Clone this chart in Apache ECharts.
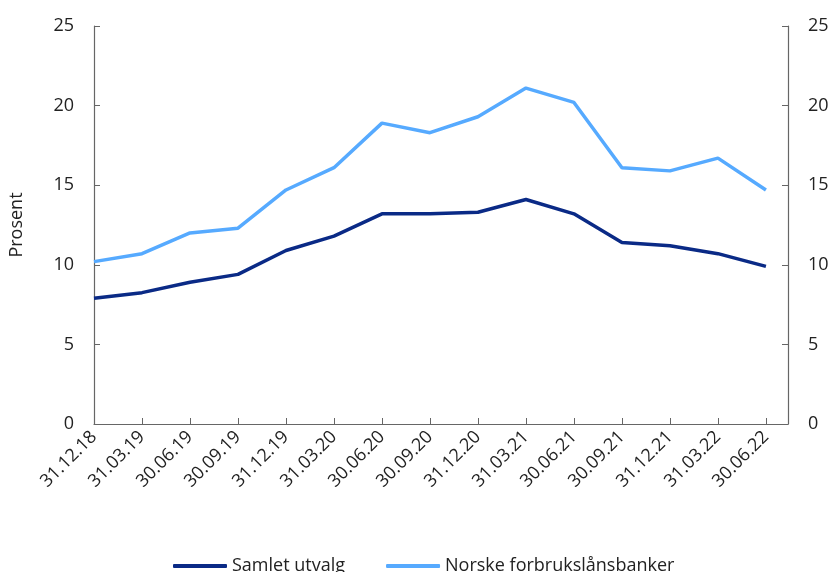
<!DOCTYPE html>
<html>
<head>
<meta charset="utf-8">
<script src="https://cdn.jsdelivr.net/npm/echarts@6/dist/echarts.min.js"></script>
<style>
  html,body{margin:0;padding:0;background:#fff}
  #c{width:829px;height:572px}
</style>
</head>
<body>
<div id="c"></div>
<script>
// kvartalsdatoer og andeler (prosent)
const dates = ['31.12.18','31.03.19','30.06.19','30.09.19','31.12.19','31.03.20','30.06.20','30.09.20',
  '31.12.20','31.03.21','30.06.21','30.09.21','31.12.21','31.03.22','30.06.22']
const samlet = [7.9, 8.25, 8.9, 9.4, 10.9, 11.8, 13.2, 13.2, 13.3, 14.1, 13.2, 11.4, 11.2, 10.7, 9.9]
const forbruk = [10.2, 10.7, 12.0, 12.3, 14.7, 16.1, 18.9, 18.3, 19.3, 21.1, 20.2, 16.1, 15.9, 16.7, 14.7]
const yTicks = [0, 5, 10, 15, 20, 25]

const FONT = '"Open Sans", "Noto Sans", sans-serif'
const AX = '#666'
const TXT = '#222'

const yAxisBase = pos => ({
  type:'value', position:pos, min:yTicks[0], max:yTicks[yTicks.length-1], interval:5,
  axisLine:{show:true, lineStyle:{color:AX, width:1.2}},
  axisTick:{show:true, inside:true, length:6, lineStyle:{color:AX}},
  axisLabel:{color:TXT, fontSize:18, fontFamily:FONT, margin:20},
  splitLine:{show:false}
})

const chart = echarts.init(document.getElementById('c'))
chart.setOption({
  animation:false,
  textStyle:{fontFamily:FONT},
  grid:{left:94, right:41, top:26, bottom:148, containLabel:false, outerBoundsMode:'none'},
  legend:{
    bottom:-3, left:173, padding:0, itemWidth:54, itemHeight:4, itemGap:41,
    icon:'roundRect',
    textStyle:{color:TXT, fontSize:18, fontFamily:FONT},
    data:['Samlet utvalg','Norske forbrukslånsbanker']
  },
  xAxis:{
    type:'value', min:0, max:14.46, interval:1,
    axisLine:{show:true, lineStyle:{color:AX, width:1.2}},
    axisTick:{show:true, inside:true, length:6, lineStyle:{color:AX}},
    axisLabel:{
      color:TXT, fontSize:18, fontFamily:FONT, rotate:45, margin:10,
      showMaxLabel:false,
      formatter:v => Number.isInteger(v) ? (dates[v] || '') : ''
    },
    splitLine:{show:false}
  },
  yAxis:[
    Object.assign(yAxisBase('left'), {
      name:'Prosent', nameLocation:'middle', nameGap:68, nameRotate:90,
      nameTextStyle:{color:TXT, fontSize:18, fontFamily:FONT}
    }),
    yAxisBase('right')
  ],
  series:[
    {name:'Samlet utvalg', type:'line', showSymbol:false, symbol:'none',
      data:samlet.map((v,i)=>[i,v]),
      lineStyle:{color:'#0A2A86', width:3.5}, itemStyle:{color:'#0A2A86'}},
    {name:'Norske forbrukslånsbanker', type:'line', showSymbol:false, symbol:'none',
      data:forbruk.map((v,i)=>[i,v]),
      lineStyle:{color:'#56AAFF', width:3.5}, itemStyle:{color:'#56AAFF'}}
  ]
})
</script>
</body>
</html>
